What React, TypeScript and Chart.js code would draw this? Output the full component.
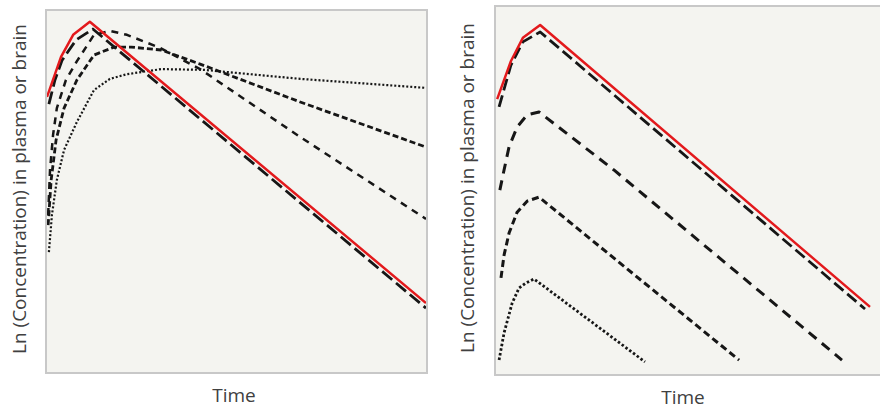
import React, { useEffect, useRef } from "react";
import { Chart, registerables } from "chart.js";

Chart.register(...registerables);

// ---------- data (time 0..100, ln concentration 0..100, arbitrary units) ----------
const leftPlasmaT = [0, 3.7, 6.9, 11.3, 100];
const leftPlasmaC = [76.2, 87.3, 93.4, 97.0, 19.1];
const leftBrainFastT = [0.5, 2.1, 4.0, 7.7, 12.1, 100];
const leftBrainFastC = [74.2, 80.9, 86.4, 92.0, 95.0, 17.7];
const leftBrainMidT = [0.3, 0.8, 1.6, 2.6, 5.0, 7.9, 12.4, 16.6, 21.1, 29.8, 40.4, 66.8, 100];
const leftBrainMidC = [43.5, 56.0, 65.7, 73.1, 80.9, 86.1, 93.4, 94.5, 93.4, 89.8, 83.9, 65.1, 42.4];
const leftBrainSlowT = [0.3, 1.1, 2.4, 4.5, 7.9, 12.4, 17.7, 22.2, 30.1, 40.4, 66.8, 100];
const leftBrainSlowC = [40.7, 53.2, 64.3, 73.1, 80.9, 87.8, 90.0, 90.0, 89.2, 85.3, 74.8, 62.3];
const leftBrainSlowestT = [0.5, 1.3, 2.6, 4.5, 7.9, 12.4, 16.6, 21.1, 30.1, 41.4, 66.8, 100];
const leftBrainSlowestC = [33.2, 43.5, 53.2, 61.5, 69.3, 78.1, 81.2, 82.5, 83.9, 83.7, 81.2, 78.7];

const rightPlasmaT = [0.3, 3.9, 7.0, 11.5, 97.4];
const rightPlasmaC = [74.9, 85.3, 91.6, 95.1, 18.3];
const rightBrainHighT = [0.8, 3.9, 7.0, 11.5, 96.1];
const rightBrainHighC = [72.8, 84.2, 90.5, 93.2, 17.7];
const rightBrainMidT = [1.0, 2.1, 3.4, 5.5, 8.1, 11.2, 30.7, 90.1];
const rightBrainMidC = [50.1, 55.6, 61.9, 67.3, 70.6, 71.4, 55.6, 3.8];
const rightBrainLowT = [1.3, 2.1, 3.4, 5.5, 8.1, 11.2, 63.3];
const rightBrainLowC = [26.2, 32.4, 38.4, 44.1, 47.1, 48.2, 3.8];
const rightBrainLowestT = [0.8, 2.1, 4.2, 6.0, 7.8, 9.9, 38.8];
const rightBrainLowestC = [3.8, 11.2, 19.3, 23.4, 24.8, 25.9, 3.3];

const yTitle = "Ln (Concentration) in plasma or brain";
const xTitle = "Time";

const RED = "#e3191c";
const BLACK = "#161616";

const pts = (t: number[], c: number[]) => t.map((x, i) => ({ x, y: c[i] }));

const line = (t: number[], c: number[], color: string, width: number, dash: number[]) => ({
  data: pts(t, c),
  borderColor: color,
  borderWidth: width,
  borderDash: dash,
  borderCapStyle: "butt",
  borderJoinStyle: "round",
  pointRadius: 0,
  fill: false,
  tension: 0,
});

const boxPlugin = {
  id: "plotBox",
  beforeDraw(chart: any) {
    const { ctx, chartArea: a } = chart;
    ctx.save();
    ctx.fillStyle = "#f4f4f0";
    ctx.fillRect(a.left, a.top, a.right - a.left, a.bottom - a.top);
    ctx.strokeStyle = "#c8c8c8";
    ctx.lineWidth = 2;
    ctx.strokeRect(a.left - 1, a.top - 1, a.right - a.left + 2, a.bottom - a.top + 2);
    ctx.restore();
  },
};

type PanelProps = {
  left: number;
  top: number;
  width: number;
  height: number;
  padding: { left: number; right: number; top: number; bottom: number };
  datasets: any[];
};

function Panel({ left, top, width, height, padding, datasets }: PanelProps) {
  const ref = useRef<HTMLCanvasElement | null>(null);
  useEffect(() => {
    if (!ref.current) return;
    const chart = new Chart(ref.current, {
      type: "line",
      data: { datasets },
      options: {
        animation: false,
        responsive: false,
        devicePixelRatio: 1,
        layout: { padding },
        plugins: { legend: { display: false }, tooltip: { enabled: false } },
        scales: {
          x: { type: "linear", min: 0, max: 100, display: false },
          y: { type: "linear", min: 0, max: 100, display: false },
        },
      } as any,
      plugins: [boxPlugin],
    });
    return () => chart.destroy();
  }, []);
  return (
    <canvas
      ref={ref}
      width={width}
      height={height}
      style={{ position: "absolute", left, top, width, height }}
    />
  );
}

const textBase: React.CSSProperties = {
  position: "absolute",
  fontFamily: "'Open Sans', sans-serif",
  fontSize: 19,
  lineHeight: "19px",
  color: "#404040",
  whiteSpace: "nowrap",
};

export default function App() {
  const leftSets = [
    line(leftPlasmaT, leftPlasmaC, RED, 2.5, []),
    line(leftBrainFastT, leftBrainFastC, BLACK, 2.8, [13, 5]),
    line(leftBrainMidT, leftBrainMidC, BLACK, 2.5, [7, 6]),
    line(leftBrainSlowT, leftBrainSlowC, BLACK, 2.8, [6, 3]),
    line(leftBrainSlowestT, leftBrainSlowestC, BLACK, 2.2, [2, 2]),
  ];
  const rightSets = [
    line(rightPlasmaT, rightPlasmaC, RED, 2.5, []),
    line(rightBrainHighT, rightBrainHighC, BLACK, 2.8, [12, 5]),
    line(rightBrainMidT, rightBrainMidC, BLACK, 3, [10, 7]),
    line(rightBrainLowT, rightBrainLowC, BLACK, 3, [7, 4]),
    line(rightBrainLowestT, rightBrainLowestC, BLACK, 2.8, [2.5, 2.2]),
  ];
  return (
    <div
      style={{
        position: "fixed",
        left: 0,
        top: 0,
        width: 880,
        height: 406,
        overflow: "hidden",
        background: "#ffffff",
      }}
    >
      <Panel
        left={44}
        top={8}
        width={385}
        height={367}
        padding={{ left: 3, right: 3, top: 3, bottom: 3 }}
        datasets={leftSets}
      />
      <Panel
        left={493}
        top={4}
        width={387}
        height={373}
        padding={{ left: 3, right: 0, top: 3, bottom: 3 }}
        datasets={rightSets}
      />
      <div style={{ ...textBase, left: 19, top: 189, transform: "translate(-50%, -50%) rotate(-90deg)" }}>
        {yTitle}
      </div>
      <div style={{ ...textBase, left: 467, top: 188, transform: "translate(-50%, -50%) rotate(-90deg)" }}>
        {yTitle}
      </div>
      <div style={{ ...textBase, left: 234, top: 395, transform: "translate(-50%, -50%)" }}>{xTitle}</div>
      <div style={{ ...textBase, left: 683, top: 397, transform: "translate(-50%, -50%)" }}>{xTitle}</div>
    </div>
  );
}
